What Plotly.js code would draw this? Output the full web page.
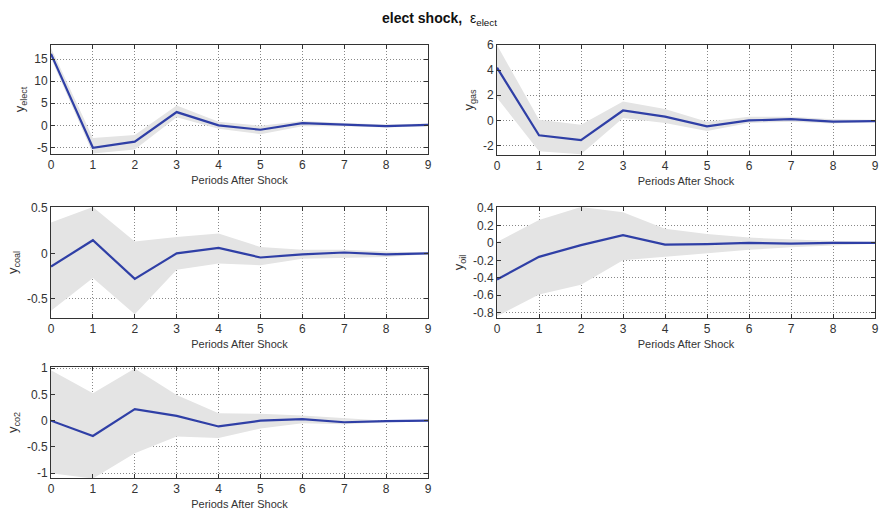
<!DOCTYPE html>
<html>
<head>
<meta charset="utf-8">
<script src="https://cdn.plot.ly/plotly-3.0.1.min.js"></script>
<style>html,body{margin:0;padding:0;background:#fff;}#chart{width:879px;height:513px;}</style>
</head>
<body>
<div id="chart"></div>
<script>
const periods = [0,1,2,3,4,5,6,7,8,9];
const tickLabels = ['0','1','2','3','4','5','6','7','8','9'];

const electMid = [16.2, -5.1, -3.7, 3.0, 0.0, -1.0, 0.5, 0.2, -0.2, 0.1];
const electUp  = [17.5, -2.9, -2.2, 4.5, 0.8, -0.1, 1.0, 0.5, 0.2, 0.4];
const electLo  = [15.2, -6.4, -5.5, 1.8, -0.8, -2.0, -0.2, -0.2, -0.5, -0.2];

const gasMid = [4.2, -1.18, -1.57, 0.79, 0.3, -0.47, 0.0, 0.1, -0.1, -0.05];
const gasUp  = [6.0, 0.05, -0.34, 1.5, 0.9, -0.1, 0.3, 0.3, 0.1, 0.05];
const gasLo  = [1.8, -2.45, -2.7, 0.2, -0.2, -0.85, -0.2, -0.1, -0.25, -0.1];

const coalMid = [-0.145, 0.145, -0.28, 0.0, 0.06, -0.045, -0.01, 0.01, -0.01, 0.0];
const coalUp  = [0.34, 0.51, 0.13, 0.18, 0.22, 0.07, 0.04, 0.04, 0.02, 0.01];
const coalLo  = [-0.63, -0.27, -0.67, -0.18, -0.11, -0.13, -0.06, -0.05, -0.04, -0.01];

const oilMid = [-0.42, -0.16, -0.027, 0.087, -0.02, -0.015, 0.0, -0.01, 0.0, 0.0];
const oilUp  = [0.01, 0.26, 0.41, 0.35, 0.16, 0.1, 0.06, 0.04, 0.02, 0.01];
const oilLo  = [-0.84, -0.59, -0.48, -0.2, -0.16, -0.12, -0.08, -0.05, -0.03, -0.01];

const co2Mid = [0.0, -0.29, 0.22, 0.09, -0.11, 0.0, 0.03, -0.03, -0.01, 0.0];
const co2Up  = [0.96, 0.52, 0.99, 0.49, 0.14, 0.13, 0.1, 0.05, 0.0, 0.01];
const co2Lo  = [-1.0, -1.1, -0.62, -0.3, -0.33, -0.15, -0.05, -0.07, -0.03, -0.01];

const panels = [
  {name:'elect', mid:electMid, up:electUp, lo:electLo, range:[-6.5,18.2], tickvals:[-5,0,5,10,15], dx:[51,428], dy:[45,154]},
  {name:'gas', mid:gasMid, up:gasUp, lo:gasLo, range:[-2.75,6], tickvals:[-2,0,2,4,6], dx:[497,875], dy:[45,155]},
  {name:'coal', mid:coalMid, up:coalUp, lo:coalLo, range:[-0.71,0.51], tickvals:[-0.5,0,0.5], dx:[51,428], dy:[207,318]},
  {name:'oil', mid:oilMid, up:oilUp, lo:oilLo, range:[-0.86,0.41], tickvals:[-0.8,-0.6,-0.4,-0.2,0,0.2,0.4], dx:[497,875], dy:[207,318]},
  {name:'co2', mid:co2Mid, up:co2Up, lo:co2Lo, range:[-1.09,1.02], tickvals:[-1,-0.5,0,0.5,1], dx:[51,428], dy:[367,478]}
];

const W = 879, H = 513;
const traces = [];
const layout = {
  width: W, height: H,
  margin: {l:0, r:0, t:0, b:0},
  paper_bgcolor: '#ffffff',
  plot_bgcolor: '#ffffff',
  showlegend: false,
  font: {family: 'Liberation Sans, Arial, sans-serif', size: 11, color: '#333333'},
  annotations: [{
    text: '<b>elect shock,</b>  ε<sub>elect</sub>',
    x: 0.5, y: 1 - 19/H, xref: 'paper', yref: 'paper',
    xanchor: 'center', yanchor: 'middle', showarrow: false,
    font: {size: 14, color: '#111111', family: 'Liberation Sans, Arial, sans-serif'}
  }]
};

function ticktext(vals){ return vals.map(v => String(v)); }

panels.forEach((p, i) => {
  const n = i + 1;
  const xa = n === 1 ? 'x' : 'x' + n;
  const ya = n === 1 ? 'y' : 'y' + n;
  traces.push({x: periods, y: p.up, xaxis: xa, yaxis: ya, mode: 'lines', line: {width: 0, color: 'rgba(0,0,0,0)'}, hoverinfo: 'skip'});
  traces.push({x: periods, y: p.lo, xaxis: xa, yaxis: ya, mode: 'lines', fill: 'tonexty', fillcolor: '#e4e4e4', line: {width: 0, color: 'rgba(0,0,0,0)'}, hoverinfo: 'skip'});
  traces.push({x: periods, y: p.mid, xaxis: xa, yaxis: ya, mode: 'lines', line: {width: 2.2, color: '#2f3fa6'}});

  const axX = {
    domain: [p.dx[0]/W, p.dx[1]/W],
    anchor: ya,
    range: [0, 9],
    tickmode: 'array', tickvals: periods, ticktext: tickLabels,
    ticks: 'inside', ticklen: 4, tickcolor: '#333',
    showline: true, linecolor: '#333', linewidth: 1, mirror: 'ticks',
    showgrid: true, gridcolor: '#888', griddash: '1px,2px', gridwidth: 1,
    zeroline: false,
    tickfont: {size: 12, color: '#333'},
    title: {text: 'Periods After Shock', font: {size: 11, color: '#333'}, standoff: 4}
  };
  const axY = {
    domain: [1 - p.dy[1]/H, 1 - p.dy[0]/H],
    anchor: xa,
    range: p.range,
    tickmode: 'array', tickvals: p.tickvals, ticktext: ticktext(p.tickvals),
    ticks: 'inside', ticklen: 4, tickcolor: '#333',
    showline: true, linecolor: '#333', linewidth: 1, mirror: 'ticks',
    showgrid: true, gridcolor: '#888', griddash: '1px,2px', gridwidth: 1,
    zeroline: false,
    tickfont: {size: 12, color: '#333'},
    title: {text: 'y<sub>' + p.name + '</sub>', font: {size: 13, color: '#333'}, standoff: 6}
  };
  layout[n === 1 ? 'xaxis' : 'xaxis' + n] = axX;
  layout[n === 1 ? 'yaxis' : 'yaxis' + n] = axY;
});

Plotly.newPlot('chart', traces, layout, {displayModeBar: false, staticPlot: true});
</script>
</body>
</html>
